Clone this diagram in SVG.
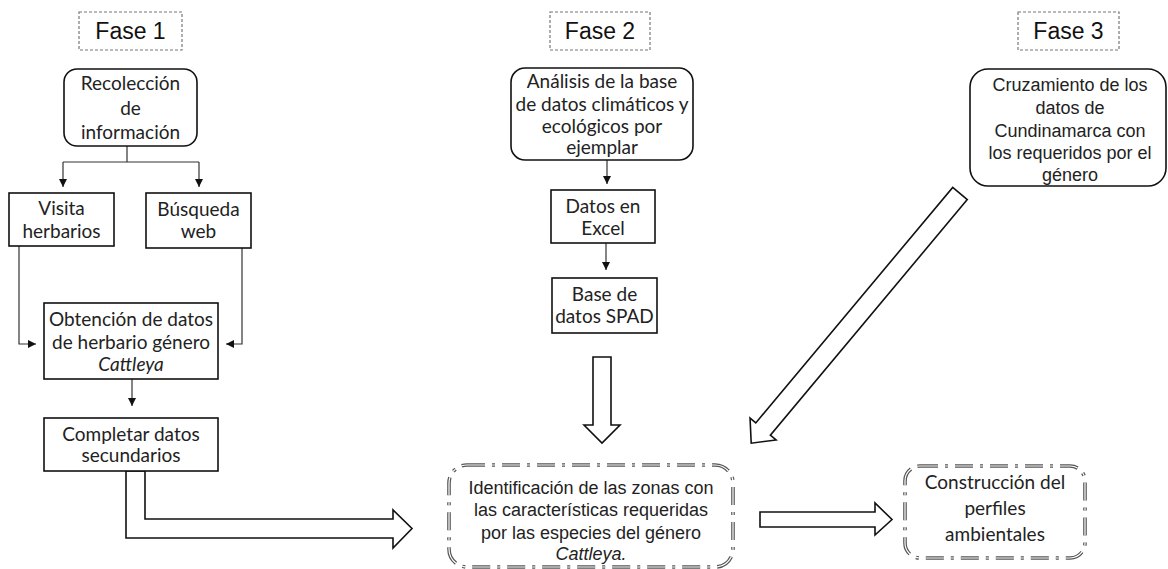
<svg xmlns="http://www.w3.org/2000/svg" width="1168" height="569" viewBox="0 0 1168 569">
<defs>
<marker id="ah" markerWidth="8" markerHeight="8" refX="8" refY="4" orient="auto" markerUnits="userSpaceOnUse">
<path d="M0,0 L8,4 L0,8 z" fill="#111"/>
</marker>
<style>
.fase{fill:#fff;stroke:#777;stroke-width:1.2;stroke-dasharray:3 2}
.ft{font-family:"Liberation Sans",Arial,sans-serif;font-size:23px;fill:#111;text-anchor:middle}
.box{fill:#fff;stroke:#111;stroke-width:1.6}
.c{font-family:Lato,"Open Sans",sans-serif;font-size:19px;fill:#222;text-anchor:middle}
.a{font-family:"Liberation Sans",Arial,sans-serif;font-size:18px;fill:#222;text-anchor:middle}
.dd1{fill:#fff;stroke:#555;stroke-width:3.6;stroke-dasharray:18 7 3 7}
.dd2{fill:none;stroke:#fff;stroke-width:1.2;stroke-dasharray:18 7 3 7}
.thin{fill:none;stroke:#333;stroke-width:1.2}
.big{fill:#fff;stroke:#111;stroke-width:1.6;stroke-linejoin:miter}
</style>
</defs>

<g id="fase1">
<rect class="fase" x="79" y="12" width="103" height="38"/>
<text class="ft" x="130.5" y="39">Fase 1</text>
</g>
<g id="fase2">
<rect class="fase" x="550" y="12" width="100" height="38"/>
<text class="ft" x="600" y="39">Fase 2</text>
</g>
<g id="fase3">
<rect class="fase" x="1018" y="12" width="101" height="38"/>
<text class="ft" x="1068.5" y="39">Fase 3</text>
</g>

<g id="connectors">
<path class="thin" d="M127,146 V162 M63,162 H199"/>
<path class="thin" d="M63,162 V187" marker-end="url(#ah)"/>
<path class="thin" d="M199,162 V187" marker-end="url(#ah)"/>
<path class="thin" d="M19,246 V344 H36" marker-end="url(#ah)"/>
<path class="thin" d="M242,248 V344 H226" marker-end="url(#ah)"/>
<path class="thin" d="M132,379 V406" marker-end="url(#ah)"/>
<path class="thin" d="M607,160 V184" marker-end="url(#ah)"/>
<path class="thin" d="M606,243 V270" marker-end="url(#ah)"/>
<polygon class="big" points="126,471 126,538 393,538 393,548 412,528.5 393,510 393,519 145,519 145,471"/>
<polygon class="big" points="593,357 611,357 611,425 620,425 602,443 584,425 593,425"/>
<polygon class="big" transform="translate(960,193.5) rotate(129.9)" points="0,-9.5 307,-9.5 307,-17 325.5,0 307,17 307,9.5 0,9.5"/>
<polygon class="big" points="760,512 875,512 875,503 892,519.5 875,535 875,527 760,527"/>
</g>

<g id="recoleccion">
<rect class="box" x="64" y="69" width="133" height="77" rx="13"/>
<text class="c" x="130.5" y="90">Recolección</text>
<text class="c" x="130.5" y="115">de</text>
<text class="c" x="130.5" y="139">información</text>
</g>
<g id="visita">
<rect class="box" x="9" y="193" width="105" height="53"/>
<text class="c" x="61.5" y="215">Visita</text>
<text class="c" x="61.5" y="238">herbarios</text>
</g>
<g id="busqueda">
<rect class="box" x="146" y="193" width="105" height="55"/>
<text class="c" x="198.5" y="216">Búsqueda</text>
<text class="c" x="198.5" y="238">web</text>
</g>
<g id="obtencion">
<rect class="box" x="44" y="303" width="174" height="76"/>
<text class="c" x="131" y="326">Obtención de datos</text>
<text class="c" x="131" y="349">de herbario género</text>
<text class="c" x="131" y="371" font-style="italic">Cattleya</text>
</g>
<g id="completar">
<rect class="box" x="44" y="418" width="174" height="53"/>
<text class="c" x="131" y="441">Completar datos</text>
<text class="c" x="131" y="462">secundarios</text>
</g>

<g id="analisis">
<rect class="box" x="511" y="68" width="182" height="92" rx="14"/>
<text class="c" x="602" y="88">Análisis de la base</text>
<text class="c" x="602" y="111">de datos climáticos y</text>
<text class="c" x="602" y="133">ecológicos por</text>
<text class="c" x="602" y="154">ejemplar</text>
</g>
<g id="excel">
<rect class="box" x="551" y="190" width="104" height="53"/>
<text class="c" x="603" y="213">Datos en</text>
<text class="c" x="603" y="235">Excel</text>
</g>
<g id="spad">
<rect class="box" x="552" y="278" width="105" height="55"/>
<text class="c" x="604.5" y="301">Base de</text>
<text class="c" x="604.5" y="323">datos SPAD</text>
</g>

<g id="cruzamiento">
<rect class="box" x="970" y="69" width="196" height="117" rx="18"/>
<text class="a" x="1070" y="91">Cruzamiento de los</text>
<text class="a" x="1070" y="114">datos de</text>
<text class="a" x="1070" y="137">Cundinamarca con</text>
<text class="a" x="1070" y="159">los requeridos por el</text>
<text class="a" x="1070" y="181">género</text>
</g>

<g id="identificacion">
<rect class="dd1" x="449" y="465" width="284" height="102" rx="18"/>
<rect class="dd2" x="449" y="465" width="284" height="102" rx="18"/>
<text class="a" x="591" y="494">Identificación de las zonas con</text>
<text class="a" x="591" y="516">las características requeridas</text>
<text class="a" x="591" y="539">por las especies del género</text>
<text class="a" x="591" y="560" font-style="italic">Cattleya.</text>
</g>

<g id="construccion">
<rect class="dd1" x="905" y="466" width="180" height="92" rx="15"/>
<rect class="dd2" x="905" y="466" width="180" height="92" rx="15"/>
<text class="c" x="995" y="489">Construcción del</text>
<text class="c" x="995" y="515">perfiles</text>
<text class="c" x="995" y="541">ambientales</text>
</g>
</svg>
